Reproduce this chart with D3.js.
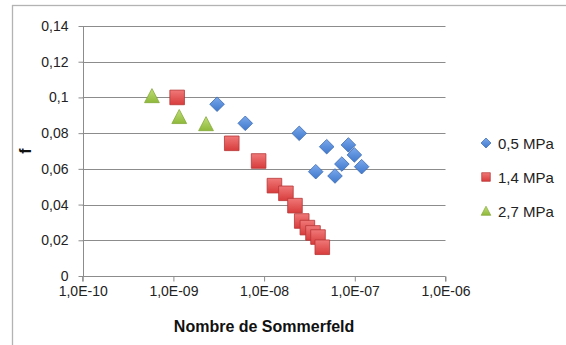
<!DOCTYPE html>
<html><head><meta charset="utf-8">
<script src="https://cdn.jsdelivr.net/npm/d3@7"></script>
<style>
html,body{margin:0;padding:0;background:#fff;}
svg{display:block;font-family:"Liberation Sans",Arial,sans-serif;}
</style></head>
<body>
<svg id="chart" width="566" height="345"></svg>
<script>
// ---- data ----
const seriesNames = ["0,5 MPa", "1,4 MPa", "2,7 MPa"];
const s05x = [3.03e-9, 6.2e-9, 2.44e-8, 3.71e-8, 4.9e-8, 6.05e-8, 7.2e-8, 8.5e-8, 9.9e-8, 1.19e-7];
const s05y = [0.0962, 0.0855, 0.0799, 0.0584, 0.0724, 0.0560, 0.0627, 0.0734, 0.0678, 0.0612];
const s14x = [1.10e-9, 4.4e-9, 8.7e-9, 1.30e-8, 1.74e-8, 2.19e-8, 2.60e-8, 3.0e-8, 3.46e-8, 3.93e-8, 4.38e-8];
const s14y = [0.1000, 0.0743, 0.0644, 0.0506, 0.0463, 0.0394, 0.0308, 0.0271, 0.0241, 0.0218, 0.0161];
const s27x = [5.8e-10, 1.16e-9, 2.29e-9];
const s27y = [0.1008, 0.0891, 0.0851];
const xTickValues = [1e-10, 1e-9, 1e-8, 1e-7, 1e-6];
const xTickLabels = ["1,0E-10", "1,0E-09", "1,0E-08", "1,0E-07", "1,0E-06"];
const yTickValues = [0, 0.02, 0.04, 0.06, 0.08, 0.1, 0.12, 0.14];
const yTickLabels = ["0", "0,02", "0,04", "0,06", "0,08", "0,1", "0,12", "0,14"];
const xTitle = "Nombre de Sommerfeld";
const yTitle = "f";

const svg = d3.select("#chart");
const L = 82.7, R = 445.5, T = 26, B = 276;
const x = d3.scaleLog().domain([1e-10, 1e-6]).range([L, R]);
const y = d3.scaleLinear().domain([0, 0.14]).range([B, T]);

// chart border
svg.append("rect").attr("x", 12.5).attr("y", 5.5).attr("width", 600).attr("height", 400)
  .attr("fill", "#fff").attr("stroke", "#b3b3b3").attr("stroke-width", 1.3);

// gradients
const defs = svg.append("defs");
function grad(id, top, bot) {
  const g = defs.append("linearGradient").attr("id", id).attr("x1", 0).attr("y1", 0).attr("x2", 0).attr("y2", 1);
  g.append("stop").attr("offset", "0%").attr("stop-color", top);
  g.append("stop").attr("offset", "100%").attr("stop-color", bot);
}
grad("gb", "#7aa8ec", "#3f78cc");
grad("gr", "#f07878", "#d83c3c");
grad("gg", "#c0de78", "#8fb83a");

// gridlines
svg.append("g").selectAll("line").data(yTickValues.filter(v => v > 0)).join("line")
  .attr("x1", L).attr("x2", R).attr("y1", d => Math.round(y(d)) + 0.5).attr("y2", d => Math.round(y(d)) + 0.5)
  .attr("stroke", "#8c8c8c").attr("stroke-width", 1);

// axes
const xAxis = d3.axisBottom(x).tickValues(xTickValues).tickSize(5).tickPadding(5)
  .tickFormat((d, i) => xTickLabels[i]);
const gx = svg.append("g").attr("transform", `translate(0,${Math.round(B) + 0.5})`).call(xAxis);
gx.select(".domain").attr("stroke", "#8c8c8c").attr("d", `M${L},5V0H${R}V5`);
gx.selectAll(".tick line").attr("stroke", "#8c8c8c");
gx.selectAll("text").attr("font-size", 14).attr("fill", "#222").attr("font-family", "Liberation Sans, Arial, sans-serif");

const yAxis = d3.axisLeft(y).tickValues(yTickValues).tickSize(5).tickPadding(10)
  .tickFormat((d, i) => yTickLabels[i]);
const gy = svg.append("g").attr("transform", `translate(${Math.round(L) + 0.5},0)`).call(yAxis);
gy.select(".domain").attr("stroke", "#8c8c8c").attr("d", `M0,${T}V${B}`);
gy.selectAll(".tick line").attr("stroke", "#8c8c8c");
gy.selectAll("text").attr("font-size", 14).attr("fill", "#222").attr("font-family", "Liberation Sans, Arial, sans-serif");

// titles
svg.append("text").attr("x", (L + R) / 2).attr("y", 332).attr("text-anchor", "middle")
  .attr("font-size", 16).attr("font-weight", "bold").attr("fill", "#111").text(xTitle);
svg.append("text").attr("transform", `translate(31,${(T + B) / 2}) rotate(-90)`).attr("text-anchor", "middle")
  .attr("font-size", 16).attr("font-weight", "bold").attr("fill", "#111").text(yTitle);

// markers
function diamondPath(s) { return `M0,${-s}L${s},0L0,${s}L${-s},0Z`; }
function squarePath(s) { return `M${-s},${-s}H${s}V${s}H${-s}Z`; }
function trianglePath(s) { return `M0,${-s}L${s},${s * 0.9}L${-s},${s * 0.9}Z`; }

const series = [
  { xs: s05x, ys: s05y, path: diamondPath(7.3), fill: "url(#gb)", stroke: "#3a69b0", lpath: diamondPath(5) },
  { xs: s14x, ys: s14y, path: squarePath(7.3), fill: "url(#gr)", stroke: "#b83535", lpath: squarePath(4.3) },
  { xs: s27x, ys: s27y, path: trianglePath(7.4), fill: "url(#gg)", stroke: "#84a93a", lpath: trianglePath(4.8) }
];
series.forEach(s => {
  const pts = s.xs.map((v, i) => [v, s.ys[i]]);
  svg.append("g").selectAll("path").data(pts).join("path")
    .attr("transform", d => `translate(${x(d[0])},${y(d[1])})`)
    .attr("d", s.path).attr("fill", s.fill).attr("stroke", s.stroke).attr("stroke-width", 0.8);
});

// legend
const lg = svg.append("g");
series.forEach((s, i) => {
  const ly = 143 + i * 34;
  lg.append("path").attr("transform", `translate(486,${ly})`).attr("d", s.lpath)
    .attr("fill", s.fill).attr("stroke", s.stroke).attr("stroke-width", 0.7);
  lg.append("text").attr("x", 498).attr("y", ly + 5.5).attr("font-size", 15).attr("fill", "#222").text(seriesNames[i]);
});
</script>
</body></html>
